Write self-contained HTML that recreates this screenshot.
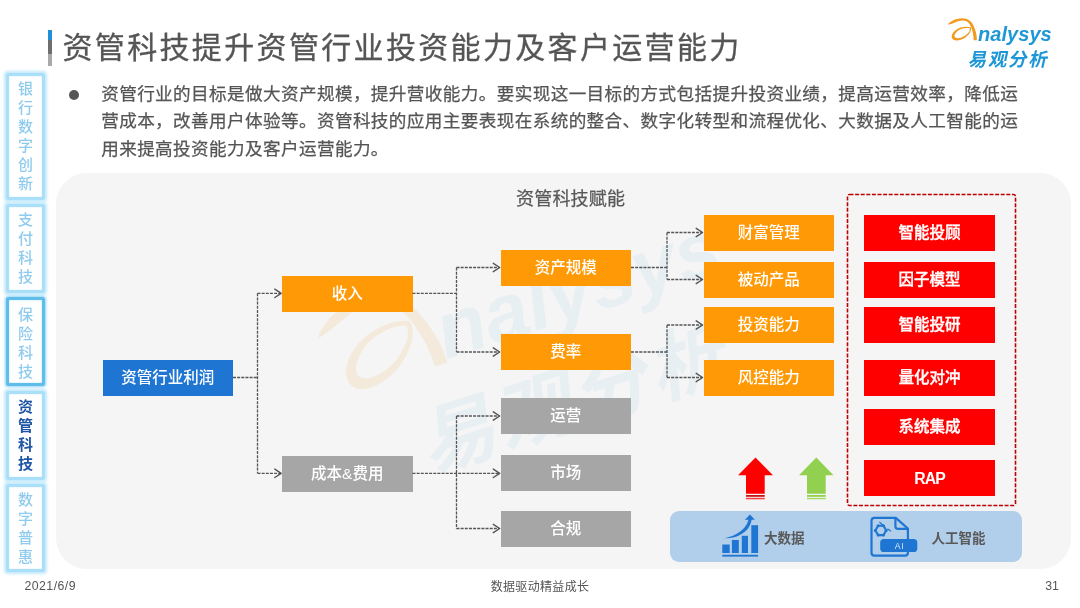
<!DOCTYPE html>
<html lang="zh-CN">
<head>
<meta charset="utf-8">
<title>资管科技提升资管行业投资能力及客户运营能力</title>
<style>
*{margin:0;padding:0;box-sizing:border-box;}
html,body{width:1080px;height:608px;overflow:hidden;background:#fff;}
body{position:relative;font-family:"Liberation Sans","Noto Sans CJK SC",sans-serif;color:#595959;}
.abs{position:absolute;}
#stage{position:absolute;left:0;top:0;width:1080px;height:608px;will-change:transform;}
#titlebar{left:48px;top:30px;width:4px;height:36px;background:linear-gradient(#1e8fd8 0,#1e8fd8 10px,#6e6e6e 10px,#6e6e6e 24px,#a9a9a9 24px,#a9a9a9 36px);}
#title{left:62.5px;top:23.5px;height:48px;line-height:48px;font-size:30px;letter-spacing:2.34px;color:#555;-webkit-text-stroke:0.3px #555;white-space:nowrap;}
#bullet{left:69px;top:89.5px;width:10px;height:10px;border-radius:50%;background:#555;}
#para{left:101.2px;top:80.9px;width:930px;font-size:17.6px;line-height:27.6px;letter-spacing:0.385px;color:#555;-webkit-text-stroke:0.25px #555;white-space:nowrap;}
.tab{left:6.2px;width:38.8px;border:3px solid #a9dff8;border-radius:2.5px;background:#fff;box-shadow:0 0 3px 1.2px #c4e9fb, inset 0 0 2px #d2edfb;color:#8fcbee;font-size:15px;font-weight:500;line-height:19px;text-align:center;padding-top:2.7px;}
.tab span{display:block;}
.tab.hot{border-color:#5fbdec;box-shadow:0 0 3px 1px #8fd2f3, inset 0 0 2px #a6dbf5;}
.tab.cur{color:#1f55a5;font-weight:700;}
#panel{left:55.5px;top:172.5px;width:1015.5px;height:396px;border-radius:31px;background:#f5f5f5;overflow:hidden;}
.box{height:36px;width:130.5px;color:#fff;font-size:15.5px;line-height:35px;text-align:center;white-space:nowrap;}
.or{background:#ff9a06;font-weight:500;}
.gr{background:#a6a6a6;font-weight:500;}
.bl{background:#1f76d2;font-weight:500;}
.rd{background:#ff0000;font-weight:500;width:131px;-webkit-text-stroke:0.35px #fff;}
#sub{left:516px;top:185.5px;font-size:18px;line-height:27px;letter-spacing:0.2px;color:#595959;-webkit-text-stroke:0.25px #595959;white-space:nowrap;}
#bluebar{left:670px;top:511px;width:352px;height:51px;border-radius:9px;background:#b1ceeb;}
.lbl{font-size:13.5px;font-weight:700;color:#595959;line-height:20px;white-space:nowrap;}
#date{left:24.5px;top:576px;font-size:12.3px;line-height:20px;letter-spacing:0.45px;color:#555;}
#foot{left:440px;width:200px;text-align:center;top:577px;font-size:12px;line-height:20px;letter-spacing:0.33px;color:#555;}
#pg{left:1040px;width:24px;text-align:center;top:576px;font-size:12.3px;line-height:20px;color:#555;}
#logo-en{left:978px;top:20px;font-size:20px;line-height:28px;font-weight:700;font-style:italic;color:#1d97d5;letter-spacing:0.05px;}
#logo-cn{left:965.5px;top:46px;font-size:18.5px;line-height:28px;font-weight:700;color:#1d97d5;letter-spacing:1.7px;transform:skewX(-12deg);transform-origin:left bottom;white-space:nowrap;}
svg{position:absolute;left:0;top:0;}
</style>
</head>
<body>
<div id="stage">
<div class="abs" id="titlebar"></div>
<div class="abs" id="title">资管科技提升资管行业投资能力及客户运营能力</div>

<div class="abs" id="bullet"></div>
<div class="abs" id="para">资管行业的目标是做大资产规模，提升营收能力。要实现这一目标的方式包括提升投资业绩，提高运营效率，降低运<br>营成本，改善用户体验等。资管科技的应用主要表现在系统的整合、数字化转型和流程优化、大数据及人工智能的运<br>用来提高投资能力及客户运营能力。</div>

<div class="abs tab" style="top:73px;height:127px;"><span>银</span><span>行</span><span>数</span><span>字</span><span>创</span><span>新</span></div>
<div class="abs tab" style="top:204px;height:88.5px;"><span>支</span><span>付</span><span>科</span><span>技</span></div>
<div class="abs tab hot" style="top:296.6px;height:89.6px;padding-top:5.6px;"><span>保</span><span>险</span><span>科</span><span>技</span></div>
<div class="abs tab cur" style="top:391px;height:88.5px;padding-top:3.4px;"><span>资</span><span>管</span><span>科</span><span>技</span></div>
<div class="abs tab" style="top:483.5px;height:88px;padding-top:3.7px;"><span>数</span><span>字</span><span>普</span><span>惠</span></div>

<div class="abs" id="panel"></div>
<svg width="1080" height="608" viewBox="0 0 1080 608">
  <!-- watermark -->
  <g transform="translate(460.7 332.6) rotate(-17.6) scale(4) translate(-984 -35.5)">
    <g fill="#f39a1e" opacity="0.11" transform="translate(1.7 1.3)">
    <path d="M947.9 24.8C949.5 21.8 955 18.5 962 18.3C968 18.2 971.6 21.4 973.6 26C975.6 30.4 976.9 34.5 976.9 40.3H973.6C973.6 35 972.6 30.6 970.9 26.6C969.4 23.2 967.3 20.3 962.4 20.4C957.5 20.5 954 23.4 947.9 24.8Z"/>
    <path fill-rule="evenodd" d="M971 27.6C967 25.8 960 26.6 955.5 30.2C951.5 33.4 950.6 37.6 953.2 39.6C956 41.6 962 40.2 966 37C969.5 34.2 971.8 30.6 971 27.6ZM969.8 28.4C970.4 30.4 968.4 33.2 965.2 35.6C962 37.9 957.6 38.9 955.4 37.6C953.6 36.4 954.6 33.6 957.6 31C961 28.2 966.5 27.2 969.8 28.4Z"/>
  </g>
    <text x="978.4" y="40.8" font-family="Liberation Sans, sans-serif" font-size="20" font-weight="700" font-style="italic" fill="#1d97d5" opacity="0.058">nalysys</text>
    <text transform="translate(966 66.5) skewX(-12)" font-family="Liberation Sans, Noto Sans CJK SC, sans-serif" font-size="19" font-weight="700" letter-spacing="1" fill="#1d97d5" opacity="0.058">易观分析</text>
  </g>
</svg>

<div class="abs" id="sub">资管科技赋能</div>

<div class="abs box bl" style="left:102.5px;top:360px;">资管行业利润</div>
<div class="abs box or" style="left:282px;top:275.5px;">收入</div>
<div class="abs box gr" style="left:282px;top:455.5px;">成本&amp;费用</div>
<div class="abs box or" style="left:500.5px;top:250px;">资产规模</div>
<div class="abs box or" style="left:500.5px;top:334px;">费率</div>
<div class="abs box gr" style="left:500.5px;top:398px;">运营</div>
<div class="abs box gr" style="left:500.5px;top:454.5px;">市场</div>
<div class="abs box gr" style="left:500.5px;top:510.5px;">合规</div>
<div class="abs box or" style="left:703.5px;top:214.5px;">财富管理</div>
<div class="abs box or" style="left:703.5px;top:262px;">被动产品</div>
<div class="abs box or" style="left:703.5px;top:307px;">投资能力</div>
<div class="abs box or" style="left:703.5px;top:360px;">风控能力</div>
<div class="abs box rd" style="left:864px;top:214.5px;">智能投顾</div>
<div class="abs box rd" style="left:864px;top:262px;">因子模型</div>
<div class="abs box rd" style="left:864px;top:307px;">智能投研</div>
<div class="abs box rd" style="left:864px;top:360px;">量化对冲</div>
<div class="abs box rd" style="left:864px;top:408.5px;">系统集成</div>
<div class="abs box rd" style="left:864px;top:460px;font-weight:700;letter-spacing:-0.9px;font-size:15.8px;line-height:37px;-webkit-text-stroke:0;">RAP</div>

<div class="abs" id="bluebar"></div>
<div class="abs lbl" style="left:764px;top:528.5px;">大数据</div>
<div class="abs lbl" style="left:931.5px;top:528.5px;">人工智能</div>

<svg width="1080" height="608" viewBox="0 0 1080 608">
  <g fill="none" stroke="#555" stroke-width="1.3" stroke-dasharray="3 1.15">
    <path d="M233 377.5H257.5M257.5 293.3V473.3M257.5 293.3H280M257.5 473.3H280"/>
    <path d="M412.5 293.3H456.5M456.5 267.5V352M456.5 267.5H499M456.5 352H499"/>
    <path d="M412.5 473.3H499M456.5 416V528.5M456.5 416H499M456.5 528.5H499"/>
    <path d="M631 267.5H667M667 232.5V279.5M667 232.5H702M667 279.5H702"/>
    <path d="M631 352H667M667 325V377.5M667 325H702M667 377.5H702"/>
  </g>
  <g fill="none" stroke="#555" stroke-width="1.4" stroke-linecap="round" stroke-linejoin="round">
    <path d="M274.8 289.1L281.2 293.3L274.8 297.5"/>
    <path d="M274.8 469.1L281.2 473.3L274.8 477.5"/>
    <path d="M493.3 263.3L499.7 267.5L493.3 271.7"/>
    <path d="M493.3 347.8L499.7 352.0L493.3 356.2"/>
    <path d="M493.3 411.8L499.7 416.0L493.3 420.2"/>
    <path d="M493.3 469.1L499.7 473.3L493.3 477.5"/>
    <path d="M493.3 524.3L499.7 528.5L493.3 532.7"/>
    <path d="M696.2 228.3L702.6 232.5L696.2 236.7"/>
    <path d="M696.2 275.3L702.6 279.5L696.2 283.7"/>
    <path d="M696.2 320.8L702.6 325.0L696.2 329.2"/>
    <path d="M696.2 373.3L702.6 377.5L696.2 381.7"/>
  </g>

  <rect x="847.5" y="194.5" width="168" height="311" rx="2" fill="none" stroke="#c00000" stroke-width="1.6" stroke-dasharray="4 1.6"/>
  <!-- arrows -->
  <path d="M755.5 457.5L773 475.2H764.7V493.8H746V475.2H738Z" fill="#ff0000"/>
  <rect x="746" y="495" width="18.7" height="1.8" fill="#c41414"/>
  <rect x="746" y="497.8" width="18.7" height="1.5" fill="#ff3a3a"/>
  <path d="M816.3 457.5L833.5 475.2H825.7V493.8H807V475.2H799Z" fill="#92d050"/>
  <rect x="807" y="495" width="18.7" height="1.8" fill="#92d050"/>
  <rect x="807" y="497.8" width="18.7" height="1.5" fill="#a4dc66"/>
  <!-- big data icon -->
  <g fill="#1f76d2">
    <rect x="722.3" y="544.5" width="7.4" height="8.5"/>
    <rect x="731.9" y="540" width="6.9" height="13"/>
    <rect x="741.8" y="535.8" width="6.2" height="17.2"/>
    <rect x="751.3" y="525.2" width="6.8" height="27.8"/>
    <rect x="722.3" y="554.8" width="35.8" height="1.8"/>
    <path d="M724.6 538.2C736.5 535.6 746 529.5 748.4 519.8H744.8L750 514.6L754.8 519.8H751.6C749.8 531.6 738.5 538.4 724.6 538.2Z"/>
  </g>
  <!-- AI icon -->
  <g fill="none" stroke="#1f76d2" stroke-width="2.2" stroke-linejoin="round">
    <path d="M907.9 539V528.6L895.8 517.9H874.4Q871.5 517.9 871.5 520.8V552.8Q871.5 555.7 874.4 555.7H905Q907.9 555.7 907.9 552.8V552"/>
    <path d="M895.4 518.4V526.2Q895.4 528.9 898.1 528.9H907.4"/>
    <path d="M886.2 530.4L883.5 535.1L878.1 535.1L875.4 530.4L878.1 525.7L883.5 525.7Z" stroke-width="2.1"/>
    <circle cx="886.2" cy="530.4" r="1.5" fill="#1f76d2" stroke="none"/><circle cx="883.5" cy="535.1" r="1.5" fill="#1f76d2" stroke="none"/><circle cx="878.1" cy="535.1" r="1.5" fill="#1f76d2" stroke="none"/><circle cx="875.4" cy="530.4" r="1.5" fill="#1f76d2" stroke="none"/><circle cx="878.1" cy="525.7" r="1.5" fill="#1f76d2" stroke="none"/><circle cx="883.5" cy="525.7" r="1.5" fill="#1f76d2" stroke="none"/>
    <path d="M879.4 522L883 525.2M887.4 528.8L891 531.2" stroke-width="1.2"/>
  </g>
  <rect x="880.2" y="539" width="37.1" height="13" rx="3.6" fill="#1f76d2"/>
  <text x="899.6" y="548.8" font-family="Liberation Sans, sans-serif" font-size="8.6" letter-spacing="0.9" fill="#dce9f7" text-anchor="middle">AI</text>
  <!-- logo swoosh -->
  <g fill="#f39a1e">
    <path d="M947.9 24.8C949.5 21.8 955 18.5 962 18.3C968 18.2 971.6 21.4 973.6 26C975.6 30.4 976.9 34.5 976.9 40.3H973.6C973.6 35 972.6 30.6 970.9 26.6C969.4 23.2 967.3 20.3 962.4 20.4C957.5 20.5 954 23.4 947.9 24.8Z"/>
    <path fill-rule="evenodd" d="M971 27.6C967 25.8 960 26.6 955.5 30.2C951.5 33.4 950.6 37.6 953.2 39.6C956 41.6 962 40.2 966 37C969.5 34.2 971.8 30.6 971 27.6ZM969.8 28.4C970.4 30.4 968.4 33.2 965.2 35.6C962 37.9 957.6 38.9 955.4 37.6C953.6 36.4 954.6 33.6 957.6 31C961 28.2 966.5 27.2 969.8 28.4Z"/>
  </g>
</svg>

<div class="abs" id="logo-en">nalysys</div>
<div class="abs" id="logo-cn">易观分析</div>

<div class="abs" id="date">2021/6/9</div>
<div class="abs" id="foot">数据驱动精益成长</div>
<div class="abs" id="pg">31</div>
</div>
</body>
</html>
